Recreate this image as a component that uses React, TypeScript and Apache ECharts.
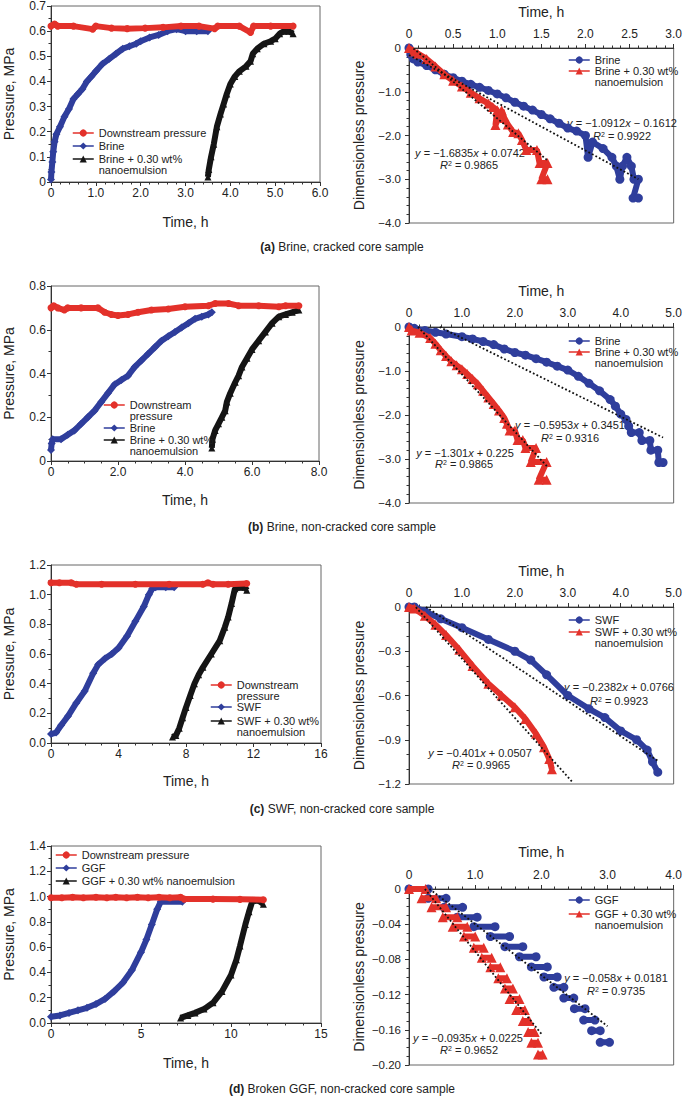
import React, { useEffect, useRef } from 'react';
import * as echarts from 'echarts';

const RED = '#e3312a';
const BLUE = '#2f3e9c';
const BLACK = '#151515';
const TXT = '#222';
const AX = '#333';
const FONT = '"Liberation Sans", Arial, Helvetica, sans-serif';

// ---------- (a) Brine, cracked core sample ----------
const aTimeLabels = ['0', '1.0', '2.0', '3.0', '4.0', '5.0', '6.0'];
const aPressureLabels = ['0', '0.1', '0.2', '0.3', '0.4', '0.5', '0.6', '0.7'];
const aDownstream = [[0, 0.62], [0.08, 0.628], [0.15, 0.62], [0.5, 0.62], [0.93, 0.608], [1.0, 0.62], [1.35, 0.612], [1.7, 0.61], [2.1, 0.612], [2.5, 0.615], [2.9, 0.62], [3.3, 0.62], [3.65, 0.61], [3.72, 0.62], [4.2, 0.62], [4.45, 0.595], [4.52, 0.62], [4.9, 0.62], [5.4, 0.62]];
const aBrine = [[0, 0.01], [0.01, 0.04], [0.03, 0.08], [0.05, 0.12], [0.08, 0.16], [0.12, 0.19], [0.2, 0.22], [0.3, 0.26], [0.4, 0.29], [0.5, 0.33], [0.6, 0.35], [0.7, 0.37], [0.8, 0.4], [0.9, 0.42], [1.0, 0.44], [1.15, 0.47], [1.3, 0.49], [1.45, 0.51], [1.6, 0.53], [1.75, 0.54], [1.9, 0.55], [2.0, 0.56], [2.2, 0.575], [2.4, 0.585], [2.6, 0.6], [2.8, 0.608], [3.0, 0.6], [3.25, 0.6], [3.5, 0.6]];
const aNano = [[3.5, 0.02], [3.52, 0.05], [3.57, 0.1], [3.63, 0.15], [3.7, 0.22], [3.78, 0.27], [3.85, 0.31], [3.92, 0.35], [4.0, 0.39], [4.1, 0.42], [4.2, 0.44], [4.35, 0.46], [4.45, 0.48], [4.5, 0.51], [4.6, 0.53], [4.75, 0.55], [4.9, 0.56], [5.0, 0.57], [5.1, 0.59], [5.2, 0.6], [5.3, 0.6], [5.4, 0.59]];
const arTimeLabels = ['0', '0.5', '1.0', '1.5', '2.0', '2.5', '3.0'];
const arDimLabels = ['\u22124.0', '\u22123.0', '\u22122.0', '\u22121.0', '0'];
const arBrine = [[0, 0], [0.02, -0.15], [0.05, -0.25], [0.1, -0.32], [0.2, -0.4], [0.3, -0.5], [0.4, -0.6], [0.5, -0.68], [0.6, -0.76], [0.7, -0.83], [0.8, -0.9], [0.9, -0.97], [1.0, -1.05], [1.1, -1.14], [1.2, -1.24], [1.3, -1.33], [1.4, -1.42], [1.5, -1.52], [1.6, -1.62], [1.7, -1.72], [1.8, -1.83], [1.9, -1.9], [2.0, -2.0], [2.03, -2.5], [2.08, -2.15], [2.2, -2.3], [2.3, -2.5], [2.35, -2.7], [2.39, -3.0], [2.42, -2.7], [2.47, -2.5], [2.52, -2.7], [2.55, -3.0], [2.6, -3.0], [2.54, -3.43], [2.6, -3.43]];
const arNano = [[0, 0], [0.05, -0.08], [0.1, -0.13], [0.2, -0.25], [0.3, -0.42], [0.4, -0.6], [0.5, -0.75], [0.6, -0.88], [0.7, -1.02], [0.8, -1.15], [0.9, -1.27], [0.95, -1.35], [1.0, -1.42], [0.98, -1.76], [1.05, -1.42], [1.08, -1.6], [1.12, -1.75], [1.18, -1.92], [1.24, -1.95], [1.28, -2.1], [1.33, -2.33], [1.45, -2.33], [1.48, -2.63], [1.57, -2.63], [1.5, -3.0], [1.57, -3.0]];
// trend: [slope, intercept, xStart, xEnd]
const arTrendBrine = [-1.0912, -0.1612, 0, 2.6];
const arTrendNano = [-1.6835, 0.0742, 0.05, 1.57];

// ---------- (b) Brine, non-cracked core sample ----------
const bTimeLabels = ['0', '2.0', '4.0', '6.0', '8.0'];
const bPressureLabels = ['0', '0.2', '0.4', '0.6', '0.8'];
const bDownstream = [[0, 0.7], [0.08, 0.71], [0.2, 0.7], [0.4, 0.69], [0.5, 0.7], [0.9, 0.7], [1.4, 0.7], [1.6, 0.68], [1.8, 0.67], [2.0, 0.665], [2.3, 0.67], [2.6, 0.68], [3.0, 0.69], [3.5, 0.695], [4.0, 0.705], [4.7, 0.71], [4.9, 0.72], [5.3, 0.72], [5.6, 0.71], [6.2, 0.71], [6.8, 0.705], [7.0, 0.71], [7.4, 0.71]];
const bBrine = [[0, 0.05], [0.02, 0.08], [0.05, 0.1], [0.3, 0.1], [0.5, 0.12], [0.7, 0.14], [0.9, 0.17], [1.1, 0.2], [1.3, 0.23], [1.5, 0.27], [1.7, 0.31], [1.9, 0.35], [2.1, 0.37], [2.3, 0.39], [2.5, 0.43], [2.7, 0.46], [2.9, 0.49], [3.1, 0.52], [3.3, 0.55], [3.5, 0.57], [3.7, 0.59], [3.9, 0.61], [4.1, 0.63], [4.3, 0.65], [4.5, 0.66], [4.7, 0.67], [4.8, 0.68]];
const bNano = [[4.8, 0.06], [4.82, 0.1], [4.9, 0.14], [5.0, 0.17], [5.1, 0.2], [5.2, 0.23], [5.25, 0.27], [5.35, 0.31], [5.5, 0.36], [5.6, 0.39], [5.7, 0.43], [5.85, 0.47], [6.0, 0.51], [6.2, 0.55], [6.4, 0.59], [6.6, 0.63], [6.8, 0.66], [7.0, 0.67], [7.2, 0.68], [7.4, 0.69]];
const brTimeLabels = ['0', '1.0', '2.0', '3.0', '4.0', '5.0'];
const brDimLabels = ['\u22124.0', '\u22123.0', '\u22122.0', '\u22121.0', '0'];
const brBrine = [[0, 0], [0.1, -0.03], [0.3, -0.08], [0.5, -0.12], [0.7, -0.16], [1.0, -0.22], [1.2, -0.27], [1.4, -0.33], [1.6, -0.4], [1.8, -0.5], [2.0, -0.58], [2.2, -0.64], [2.4, -0.72], [2.6, -0.8], [2.8, -0.89], [3.0, -0.98], [3.2, -1.12], [3.4, -1.28], [3.6, -1.45], [3.8, -1.65], [3.9, -1.8], [4.0, -1.98], [4.1, -2.1], [4.15, -2.25], [4.2, -2.4], [4.35, -2.4], [4.4, -2.58], [4.55, -2.58], [4.57, -2.8], [4.7, -2.8], [4.72, -3.08], [4.8, -3.08]];
const brNano = [[0, 0], [0.05, -0.08], [0.2, -0.13], [0.4, -0.25], [0.5, -0.38], [0.6, -0.53], [0.7, -0.66], [0.8, -0.78], [0.9, -0.87], [1.0, -0.96], [1.1, -1.07], [1.2, -1.18], [1.3, -1.3], [1.4, -1.45], [1.5, -1.6], [1.6, -1.75], [1.7, -1.9], [1.8, -2.07], [1.85, -2.2], [1.9, -2.35], [2.0, -2.35], [2.05, -2.57], [2.15, -2.57], [2.2, -2.75], [2.4, -2.75], [2.3, -3.07], [2.6, -3.07], [2.45, -3.47], [2.6, -3.47]];
const brTrendBrine = [-0.5953, 0.3451, 0.58, 4.8];
const brTrendNano = [-1.301, 0.225, 0.17, 2.62];

// ---------- (c) SWF, non-cracked core sample ----------
const cTimeLabels = ['0', '4', '8', '12', '16'];
const cPressureLabels = ['0.0', '0.2', '0.4', '0.6', '0.8', '1.0', '1.2'];
const cDownstream = [[0, 1.08], [0.5, 1.08], [1.2, 1.08], [1.5, 1.07], [3, 1.07], [5, 1.07], [7, 1.07], [9, 1.07], [9.3, 1.08], [9.6, 1.07], [10.5, 1.07], [11.6, 1.075]];
const cSWF = [[0, 0.06], [0.3, 0.07], [0.6, 0.12], [1.0, 0.18], [1.5, 0.27], [2.0, 0.35], [2.5, 0.47], [2.8, 0.53], [3.2, 0.57], [3.6, 0.6], [4.0, 0.64], [4.5, 0.72], [5.0, 0.82], [5.5, 0.92], [5.8, 1.0], [6.0, 1.04], [6.2, 1.05], [6.8, 1.05], [7.3, 1.05]];
const cNano = [[7.2, 0.04], [7.4, 0.05], [7.6, 0.1], [7.8, 0.17], [8.0, 0.24], [8.25, 0.32], [8.5, 0.4], [8.75, 0.46], [9.0, 0.51], [9.5, 0.6], [10.0, 0.69], [10.3, 0.78], [10.5, 0.85], [10.7, 0.94], [10.9, 1.04], [11.2, 1.05], [11.5, 1.05], [11.6, 1.03]];
const crTimeLabels = ['0', '1.0', '2.0', '3.0', '4.0', '5.0'];
const crDimLabels = ['\u22121.2', '\u22120.9', '\u22120.6', '\u22120.3', '0'];
const crSWF = [[0, 0], [0.1, 0], [0.3, -0.03], [0.6, -0.08], [1.0, -0.14], [1.5, -0.22], [2.0, -0.3], [2.3, -0.36], [2.6, -0.46], [3.0, -0.6], [3.4, -0.69], [3.7, -0.75], [4.0, -0.84], [4.3, -0.9], [4.5, -0.97], [4.6, -1.05], [4.7, -1.12]];
const crNano = [[0, 0], [0.1, -0.01], [0.3, -0.06], [0.5, -0.12], [0.7, -0.19], [0.95, -0.29], [1.2, -0.4], [1.5, -0.52], [1.75, -0.6], [2.0, -0.68], [2.2, -0.76], [2.4, -0.86], [2.55, -0.95], [2.65, -1.03], [2.7, -1.1]];
const crTrendSWF = [-0.2382, 0.0766, 0.32, 4.72];
const crTrendNano = [-0.401, 0.0507, 0.13, 3.1];

// ---------- (d) Broken GGF, non-cracked core sample ----------
const dTimeLabels = ['0', '5', '10', '15'];
const dPressureLabels = ['0.0', '0.2', '0.4', '0.6', '0.8', '1.0', '1.2', '1.4'];
const dDownstream = [[0, 0.99], [0.6, 0.99], [1.2, 0.995], [1.8, 0.99], [2.5, 0.995], [3.1, 0.99], [3.6, 0.995], [4.2, 0.99], [4.8, 0.995], [5.4, 0.99], [6.0, 0.995], [6.6, 0.99], [7.2, 0.995], [7.4, 0.98], [9, 0.98], [10.5, 0.978], [11.8, 0.975]];
const dGGF = [[0, 0.05], [0.5, 0.06], [1, 0.08], [1.5, 0.1], [2, 0.12], [2.5, 0.15], [3, 0.19], [3.5, 0.25], [4, 0.32], [4.5, 0.42], [5, 0.56], [5.3, 0.66], [5.6, 0.78], [5.9, 0.9], [6.1, 0.96], [7.3, 0.96]];
const dNano = [[7.2, 0.04], [7.6, 0.06], [8, 0.08], [8.5, 0.11], [9, 0.16], [9.5, 0.25], [10, 0.38], [10.3, 0.5], [10.5, 0.61], [10.8, 0.78], [11, 0.88], [11.2, 0.97], [11.5, 0.97], [11.8, 0.94]];
const drTimeLabels = ['0', '1.0', '2.0', '3.0', '4.0'];
const drDimLabels = ['\u22120.20', '\u22120.16', '\u22120.12', '\u22120.08', '\u22120.04', '0'];
// step plateaus: start time, end time, level
const drGGFStart = [0, 0.29, 0.53, 0.73, 0.98, 1.23, 1.45, 1.67, 1.85, 2.04, 2.19, 2.34, 2.5, 2.64, 2.76, 2.89];
const drGGFEnd = [0.29, 0.56, 0.81, 1.03, 1.3, 1.52, 1.72, 1.92, 2.09, 2.24, 2.34, 2.49, 2.66, 2.81, 2.89, 3.03];
const drGGFLevel = [0, -0.0106, -0.0208, -0.032, -0.0428, -0.054, -0.0655, -0.077, -0.0886, -0.1, -0.1117, -0.124, -0.136, -0.1489, -0.161, -0.1742];
const drNanoStart = [0, 0.19, 0.34, 0.51, 0.66, 0.83, 0.98, 1.1, 1.23, 1.35, 1.45, 1.52, 1.62, 1.72, 1.8, 1.85, 1.95];
const drNanoEnd = [0.25, 0.41, 0.56, 0.73, 0.88, 1.0, 1.13, 1.25, 1.38, 1.48, 1.57, 1.67, 1.75, 1.82, 1.9, 1.95, 2.02];
const drNanoLevel = [0, -0.0106, -0.0208, -0.032, -0.0428, -0.054, -0.0667, -0.078, -0.089, -0.1015, -0.113, -0.125, -0.1375, -0.15, -0.1625, -0.1746, -0.188];
const drTrendGGF = [-0.058, 0.0181, 0.31, 3.0];
const drTrendNano = [-0.0935, 0.0225, 0.24, 2.0];

const steps = (s: number[], e: number[], l: number[]) => {
  const out: any[] = [];
  s.forEach((x, i) => {
    if (i > 0) out.push([null, null]);
    out.push([x, l[i]], [e[i], l[i]]);
  });
  return out;
};

const GRIDS = [
  { left: 51, top: 5, width: 269, height: 177 },
  { left: 409, top: 48, width: 269, height: 175 },
  { left: 51, top: 286, width: 268, height: 175 },
  { left: 409, top: 327, width: 269, height: 176 },
  { left: 51, top: 565, width: 270, height: 178 },
  { left: 409, top: 607, width: 269, height: 177 },
  { left: 51, top: 846, width: 270, height: 177 },
  { left: 409, top: 889, width: 269, height: 176 },
];

const NL = '\n';

const leftPanels = [
  {
    g: 0, xMax: 6, xInt: 1, xMinor: 5, xLabels: aTimeLabels, yMax: 0.7, yInt: 0.1, yLabels: aPressureLabels, xGap: 33,
    legendLeft: 72, rows: [133, 146, 159],
    series: [
      { id: 'aL_down', label: 'Downstream pressure', data: aDownstream, color: RED, symbol: 'circle' },
      { id: 'aL_brine', label: 'Brine', data: aBrine, color: BLUE, symbol: 'diamond' },
      { id: 'aL_nano', label: 'Brine + 0.30 wt%' + NL + 'nanoemulsion', data: aNano, color: BLACK, symbol: 'triangle' },
    ],
  },
  {
    g: 2, xMax: 8, xInt: 2, xMinor: 4, xLabels: bTimeLabels, yMax: 0.8, yInt: 0.2, yLabels: bPressureLabels, xGap: 32,
    legendLeft: 103, rows: [405, 428, 440],
    series: [
      { id: 'bL_down', label: 'Downstream' + NL + 'pressure', data: bDownstream, color: RED, symbol: 'circle' },
      { id: 'bL_brine', label: 'Brine', data: bBrine, color: BLUE, symbol: 'diamond' },
      { id: 'bL_nano', label: 'Brine + 0.30 wt%' + NL + 'nanoemulsion', data: bNano, color: BLACK, symbol: 'triangle' },
    ],
  },
  {
    g: 4, xMax: 16, xInt: 4, xMinor: 4, xLabels: cTimeLabels, yMax: 1.2, yInt: 0.2, yLabels: cPressureLabels, xGap: 31,
    legendLeft: 210, rows: [685, 707, 721],
    series: [
      { id: 'cL_down', label: 'Downstream' + NL + 'pressure', data: cDownstream, color: RED, symbol: 'circle' },
      { id: 'cL_swf', label: 'SWF', data: cSWF, color: BLUE, symbol: 'diamond' },
      { id: 'cL_nano', label: 'SWF + 0.30 wt%' + NL + 'nanoemulsion', data: cNano, color: BLACK, symbol: 'triangle' },
    ],
  },
  {
    g: 6, xMax: 15, xInt: 5, xMinor: 5, xLabels: dTimeLabels, yMax: 1.4, yInt: 0.2, yLabels: dPressureLabels, xGap: 33,
    legendLeft: 55, rows: [855, 868, 881],
    series: [
      { id: 'dL_down', label: 'Downstream pressure', data: dDownstream, color: RED, symbol: 'circle' },
      { id: 'dL_ggf', label: 'GGF', data: dGGF, color: BLUE, symbol: 'diamond' },
      { id: 'dL_nano', label: 'GGF + 0.30 wt% nanoemulsion', data: dNano, color: BLACK, symbol: 'triangle' },
    ],
  },
];

const rightPanels = [
  {
    g: 1, xMax: 3, xInt: 0.5, xMinor: 5, xLabels: arTimeLabels, yMin: -4, yInt: 1, yMinor: 5, yLabels: arDimLabels, xGap: 29,
    legendLeft: 568, rows: [60, 71],
    series: [
      { id: 'aR_brine', label: 'Brine', data: arBrine, color: BLUE, symbol: 'circle', trend: arTrendBrine },
      { id: 'aR_nano', label: 'Brine + 0.30 wt%' + NL + 'nanoemulsion', data: arNano, color: RED, symbol: 'triangle', trend: arTrendNano },
    ],
  },
  {
    g: 3, xMax: 5, xInt: 1, xMinor: 5, xLabels: brTimeLabels, yMin: -4, yInt: 1, yMinor: 5, yLabels: brDimLabels, xGap: 29,
    legendLeft: 568, rows: [341, 352],
    series: [
      { id: 'bR_brine', label: 'Brine', data: brBrine, color: BLUE, symbol: 'circle', trend: brTrendBrine },
      { id: 'bR_nano', label: 'Brine + 0.30 wt%' + NL + 'nanoemulsion', data: brNano, color: RED, symbol: 'triangle', trend: brTrendNano },
    ],
  },
  {
    g: 5, xMax: 5, xInt: 1, xMinor: 5, xLabels: crTimeLabels, yMin: -1.2, yInt: 0.3, yMinor: 3, yLabels: crDimLabels, xGap: 29,
    legendLeft: 568, rows: [620, 632],
    series: [
      { id: 'cR_swf', label: 'SWF', data: crSWF, color: BLUE, symbol: 'circle', trend: crTrendSWF },
      { id: 'cR_nano', label: 'SWF + 0.30 wt%' + NL + 'nanoemulsion', data: crNano, color: RED, symbol: 'triangle', trend: crTrendNano },
    ],
  },
  {
    g: 7, xMax: 4, xInt: 1, xMinor: 5, xLabels: drTimeLabels, yMin: -0.2, yInt: 0.04, yMinor: 4, yLabels: drDimLabels, xGap: 30,
    legendLeft: 568, rows: [900, 914],
    series: [
      { id: 'dR_ggf', label: 'GGF', data: steps(drGGFStart, drGGFEnd, drGGFLevel), color: BLUE, symbol: 'circle', trend: drTrendGGF },
      { id: 'dR_nano', label: 'GGF + 0.30 wt%' + NL + 'nanoemulsion', data: steps(drNanoStart, drNanoEnd, drNanoLevel), color: RED, symbol: 'triangle', trend: drTrendNano },
    ],
  },
];

const equations = [
  { x: 622, y: 123, text: '{i|y} = \u22121.0912{i|x} \u2212 0.1612' },
  { x: 622, y: 136, text: '{i|R}{s|2} = 0.9922' },
  { x: 470, y: 153, text: '{i|y} = \u22121.6835{i|x} + 0.0742' },
  { x: 469, y: 165, text: '{i|R}{s|2} = 0.9865' },
  { x: 570, y: 425, text: '{i|y} = \u22120.5953{i|x} + 0.3451' },
  { x: 570, y: 438, text: '{i|R}{s|2} = 0.9316' },
  { x: 465, y: 453, text: '{i|y} = \u22121.301{i|x} + 0.225' },
  { x: 464, y: 464, text: '{i|R}{s|2} = 0.9865' },
  { x: 619, y: 687, text: '{i|y} = \u22120.2382{i|x} + 0.0766' },
  { x: 619, y: 701, text: '{i|R}{s|2} = 0.9923' },
  { x: 480, y: 753, text: '{i|y} = \u22120.401{i|x} + 0.0507' },
  { x: 481, y: 765, text: '{i|R}{s|2} = 0.9965' },
  { x: 616, y: 978, text: '{i|y} = \u22120.058{i|x} + 0.0181' },
  { x: 616, y: 991, text: '{i|R}{s|2} = 0.9735' },
  { x: 468, y: 1038, text: '{i|y} = \u22120.0935{i|x} + 0.0225' },
  { x: 469, y: 1050, text: '{i|R}{s|2} = 0.9652' },
];

const captions = [
  { y: 247, text: '{b|(a)} Brine, cracked core sample' },
  { y: 527, text: '{b|(b)} Brine, non-cracked core sample' },
  { y: 809, text: '{b|(c)} SWF, non-cracked core sample' },
  { y: 1089, text: '{b|(d)} Broken GGF, non-cracked core sample' },
];

function buildOption() {
  const xAxis: any[] = [];
  const yAxis: any[] = [];
  const series: any[] = [];
  const legend: any[] = [];
  const labelMap: Record<string, string> = {};

  const tickStyle = { lineStyle: { color: AX, width: 1 } };
  const labelBase = { fontSize: 12, color: TXT, fontFamily: FONT };
  const nameStyle = { fontSize: 14, color: TXT, fontFamily: FONT };

  const addLegend = (id: string, label: string, left: number, cy: number) => {
    const multi = label.indexOf('\n') >= 0;
    // two-line labels: a blank first line keeps the icon level with the first text line
    labelMap[id] = multi ? '\u00a0\n' + label : label;
    legend.push({
      left, top: multi ? cy - 16.5 : cy - 5.5, padding: 0, orient: 'vertical', itemWidth: 21, itemHeight: 9, itemGap: 0,
      selectedMode: false,
      lineStyle: { width: 1.5 },
      textStyle: { fontSize: 11, lineHeight: 11, color: TXT, fontFamily: FONT },
      formatter: (n: string) => labelMap[n],
      data: [{ name: id }],
    });
  };

  const axesByGrid: Record<number, { x: any; y: any }> = {};

  leftPanels.forEach((p) => {
    axesByGrid[p.g] = {
      x: {
        type: 'value', gridIndex: p.g, min: 0, max: p.xMax, interval: p.xInt, position: 'bottom',
        name: 'Time, h', nameLocation: 'middle', nameGap: p.xGap, nameTextStyle: nameStyle,
        axisLine: { show: true, onZero: false, lineStyle: { color: AX } },
        axisTick: { show: true, inside: false, length: 4, ...tickStyle },
        minorTick: { show: true, splitNumber: p.xMinor, length: 2.5, ...tickStyle },
        axisLabel: { ...labelBase, margin: 5, formatter: (_v: number, i: number) => p.xLabels[i] ?? '' },
        splitLine: { show: false },
      },
      y: {
        type: 'value', gridIndex: p.g, min: 0, max: p.yMax, interval: p.yInt,
        name: 'Pressure, MPa', nameLocation: 'middle', nameRotate: 90, nameGap: 35, nameTextStyle: nameStyle,
        axisLine: { show: true, onZero: false, lineStyle: { color: AX } },
        axisTick: { show: true, inside: false, length: 4, ...tickStyle },
        minorTick: { show: true, splitNumber: 2, length: 2.5, ...tickStyle },
        axisLabel: { ...labelBase, margin: 5, formatter: (_v: number, i: number) => p.yLabels[i] ?? '' },
        splitLine: { show: false },
      },
    };
    p.series.forEach((s, k) => {
      series.push({
        type: 'line', name: s.id, xAxisIndex: p.g, yAxisIndex: p.g, data: s.data,
        symbol: s.symbol, symbolSize: s.symbol === 'diamond' ? 8 : 7, showSymbol: true, showAllSymbol: true,
        lineStyle: { color: s.color, width: 6 }, itemStyle: { color: s.color }, silent: true, z: 2 + (k === 0 ? 1 : 0),
        animation: false,
      });
      addLegend(s.id, s.label, p.legendLeft, p.rows[k]);
    });
  });

  rightPanels.forEach((p) => {
    axesByGrid[p.g] = {
      x: {
        type: 'value', gridIndex: p.g, min: 0, max: p.xMax, interval: p.xInt, position: 'top',
        name: 'Time, h', nameLocation: 'middle', nameGap: p.xGap, nameTextStyle: nameStyle,
        axisLine: { show: true, onZero: false, lineStyle: { color: AX } },
        axisTick: { show: true, inside: false, length: 4, ...tickStyle },
        minorTick: { show: true, splitNumber: p.xMinor, length: 2.5, ...tickStyle },
        axisLabel: { ...labelBase, margin: 8, formatter: (_v: number, i: number) => p.xLabels[i] ?? '' },
        splitLine: { show: false },
      },
      y: {
        type: 'value', gridIndex: p.g, min: p.yMin, max: 0, interval: p.yInt,
        name: 'Dimensionless pressure', nameLocation: 'middle', nameRotate: 90, nameGap: 43, nameTextStyle: nameStyle,
        axisLine: { show: true, onZero: false, lineStyle: { color: AX } },
        axisTick: { show: true, inside: false, length: 4, ...tickStyle },
        minorTick: { show: true, splitNumber: p.yMinor, length: 2.5, ...tickStyle },
        axisLabel: { ...labelBase, fontSize: 11.5, margin: 8, formatter: (_v: number, i: number) => p.yLabels[i] ?? '' },
        splitLine: { show: false },
      },
    };
    p.series.forEach((s, k) => {
      series.push({
        type: 'line', name: s.id, xAxisIndex: p.g, yAxisIndex: p.g, data: s.data,
        symbol: s.symbol, symbolSize: s.symbol === 'triangle' ? 10 : 9, showSymbol: true, showAllSymbol: true,
        connectNulls: false,
        lineStyle: { color: s.color, width: 6 }, itemStyle: { color: s.color }, silent: true, z: 2 + k,
        animation: false,
      });
      const [m, c, x0, x1] = s.trend;
      series.push({
        type: 'line', name: s.id + '_trend', xAxisIndex: p.g, yAxisIndex: p.g,
        data: [[x0, m * x0 + c], [x1, m * x1 + c]], symbol: 'none',
        lineStyle: { color: '#111', width: 1.8, type: [1.8, 2.2] }, silent: true, z: 6, animation: false,
      });
      addLegend(s.id, s.label, p.legendLeft, p.rows[k]);
    });
  });

  for (let g = 0; g < 8; g++) {
    xAxis.push(axesByGrid[g].x);
    yAxis.push(axesByGrid[g].y);
  }

  const graphic: any[] = [];
  equations.forEach((e) => {
    graphic.push({
      type: 'text', x: e.x, y: e.y, silent: true,
      style: {
        text: e.text, fontSize: 11, fontFamily: FONT, fill: TXT, align: 'center', verticalAlign: 'middle',
        rich: {
          i: { fontStyle: 'italic', fontSize: 11, fontFamily: FONT, fill: TXT },
          s: { fontSize: 7, fontFamily: FONT, fill: TXT, verticalAlign: 'top' },
        },
      },
    });
  });
  captions.forEach((c) => {
    graphic.push({
      type: 'text', x: 342, y: c.y, silent: true,
      style: {
        text: c.text, fontSize: 12, fontFamily: FONT, fill: TXT, align: 'center', verticalAlign: 'middle',
        rich: { b: { fontWeight: 'bold', fontSize: 12, fontFamily: FONT, fill: TXT } },
      },
    });
  });

  return {
    animation: false,
    backgroundColor: '#fff',
    textStyle: { fontFamily: FONT },
    grid: GRIDS.map((r) => ({ ...r, show: true, borderColor: '#666', borderWidth: 1, backgroundColor: 'transparent', containLabel: false })),
    xAxis,
    yAxis,
    series,
    legend,
    graphic,
  };
}

export default function App() {
  const ref = useRef<HTMLDivElement>(null);
  useEffect(() => {
    if (!ref.current) return;
    const chart = echarts.init(ref.current, null, { renderer: 'svg' });
    chart.setOption(buildOption() as any);
    return () => chart.dispose();
  }, []);
  return <div ref={ref} style={{ position: 'absolute', left: 0, top: 0, width: 685, height: 1101, background: '#fff' }} />;
}
